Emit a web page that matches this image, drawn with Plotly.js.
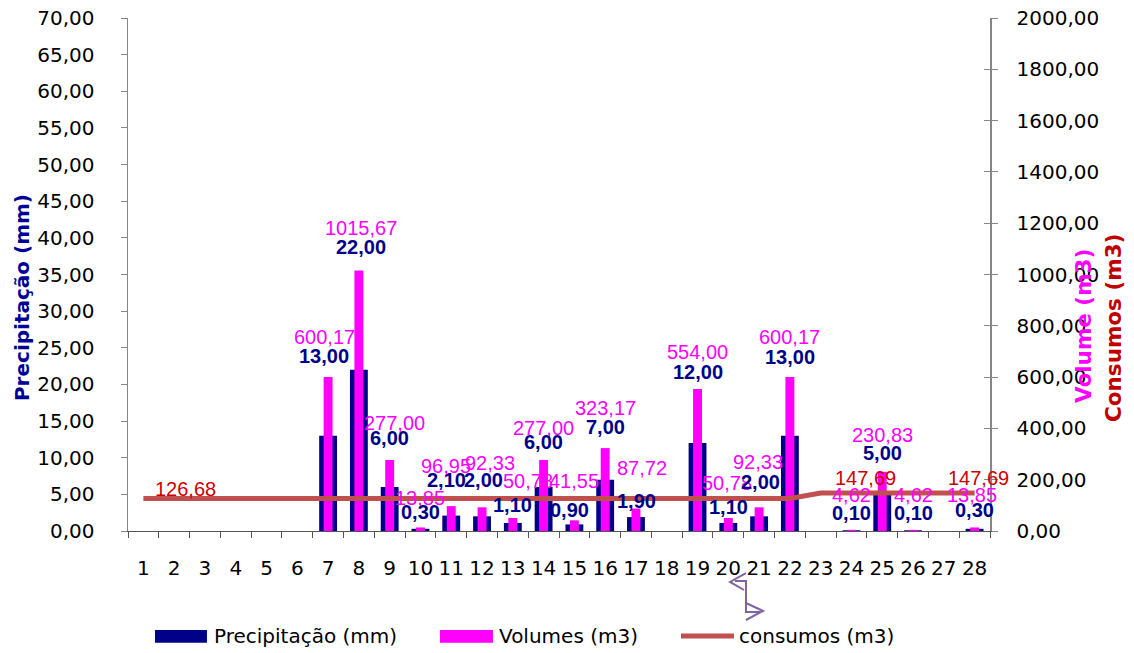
<!DOCTYPE html>
<html>
<head>
<meta charset="utf-8">
<script src="https://cdn.plot.ly/plotly-3.0.1.min.js"></script>
<style>
  html, body { margin: 0; padding: 0; background: #ffffff; }
  #chart { width: 1134px; height: 653px; }
</style>
</head>
<body>
<div id="chart"></div>
<script>
// ---- data ----
const days = ['1','2','3','4','5','6','7','8','9','10','11','12','13','14','15','16','17','18','19','20','21','22','23','24','25','26','27','28'];
const precipitacao = [null,null,null,null,null,null,13.00,22.00,6.00,0.30,2.10,2.00,1.10,6.00,0.90,7.00,1.90,null,12.00,1.10,2.00,13.00,null,0.10,5.00,0.10,null,0.30];
const volumes = [null,null,null,null,null,null,600.17,1015.67,277.00,13.85,96.95,92.33,50.78,277.00,41.55,323.17,87.72,null,554.00,50.78,92.33,600.17,null,4.62,230.83,4.62,null,13.85];
const consumos = [126.68,126.68,126.68,126.68,126.68,126.68,126.68,126.68,126.68,126.68,126.68,126.68,126.68,126.68,126.68,126.68,126.68,126.68,126.68,126.68,126.68,126.68,147.69,147.69,147.69,147.69,147.69,147.69];
const consumoLabelDays = ['2','24','28'];
const yLeftTicks = [0,5,10,15,20,25,30,35,40,45,50,55,60,65,70];
const yRightTicks = [0,200,400,600,800,1000,1200,1400,1600,1800,2000];

// ---- label placement (pixel offsets, style only) ----
// volume label: [xshift, yshift above bar top]; precip label: gap below volume label
const volLabelShift = {7:[-4,40],8:[2,42],9:[5,37],10:[0,29],11:[-5,40],12:[8,44],13:[15,37],14:[0,32],15:[0,39],16:[0,40],17:[6,41],19:[0,37],20:[-1,35],21:[-1,45],22:[0,40],24:[0,35],25:[0,37],26:[0,35],28:[-3,32]};
const precipGap = {7:19,8:19,9:15,10:14,11:14,12:17,13:24,14:14,15:29,16:19,17:33,19:20,20:24,21:20,22:20,24:18,25:18,26:18,28:15};
const precipXShift = {7:-4,8:2,9:0,10:0,11:-5,12:1,13:0,14:0,15:-5,16:0,17:1,19:0,20:0,21:1,22:0,24:0,25:0,26:0,28:0};

// ---- styles ----
const NAVY = '#000088';
const MAGENTA = '#FF00FF';
const LINE_RED = '#C0504D';
const LABEL_RED = '#CC0000';
const AXIS_GRAY = '#868686';
const fmt = v => v.toFixed(2).replace('.', ',');
const tickFont = {family: 'DejaVu Sans', size: 20, color: '#000000'};

const traces = [
  {
    type: 'bar', name: 'Precipitação (mm)', x: days, y: precipitacao,
    yaxis: 'y', width: 0.58, marker: {color: NAVY}, showlegend: false, hoverinfo: 'skip'
  },
  {
    type: 'bar', name: 'Volumes (m3)', x: days, y: volumes,
    yaxis: 'y2', width: 0.29, marker: {color: MAGENTA}, showlegend: false, hoverinfo: 'skip'
  },
  {
    type: 'scatter', mode: 'lines', name: 'consumos (m3)', x: days, y: consumos,
    yaxis: 'y2', line: {color: LINE_RED, width: 5}, showlegend: false, hoverinfo: 'skip'
  }
];

const annotations = [];
// volume labels (x given as category index)
days.forEach((d, i) => {
  if (volumes[i] == null) return;
  const s = volLabelShift[d] || [0, 38];
  annotations.push({
    x: i, y: volumes[i], xref: 'x', yref: 'y2', text: fmt(volumes[i]),
    showarrow: false, yanchor: 'middle', xanchor: 'center', xshift: s[0], yshift: s[1],
    font: {family: 'Liberation Sans', size: 20, color: MAGENTA}
  });
});
// precipitation labels (placed just under the volume labels)
days.forEach((d, i) => {
  if (precipitacao[i] == null) return;
  const s = volLabelShift[d] || [0, 38];
  const g = precipGap[d] || 19;
  annotations.push({
    x: i, y: volumes[i], xref: 'x', yref: 'y2', text: '<b>' + fmt(precipitacao[i]) + '</b>',
    showarrow: false, yanchor: 'middle', xanchor: 'center',
    xshift: precipXShift[d] || 0, yshift: s[1] - g,
    font: {family: 'Liberation Sans', size: 20, color: NAVY}
  });
});
// consumos labels
const consShift = {'2': [11, 10], '24': [14, 15], '28': [4, 15]};
consumoLabelDays.forEach(d => {
  const i = days.indexOf(d);
  annotations.push({
    x: i, y: consumos[i], xref: 'x', yref: 'y2', text: fmt(consumos[i]),
    showarrow: false, yanchor: 'middle', xanchor: 'center',
    xshift: consShift[d][0], yshift: consShift[d][1],
    font: {family: 'Liberation Sans', size: 20, color: LABEL_RED}
  });
});
// axis titles
annotations.push({
  xref: 'paper', yref: 'paper', x: -0.123, y: 0.456, text: '<b>Precipitação (mm)</b>',
  textangle: -90, showarrow: false, xanchor: 'center', yanchor: 'middle',
  font: {family: 'DejaVu Sans', size: 20, color: '#000099'}
});
annotations.push({
  xref: 'paper', yref: 'paper', x: 1.1079, y: 0.3996, text: '<b>Volume (m3)</b>',
  textangle: -90, showarrow: false, xanchor: 'center', yanchor: 'middle',
  font: {family: 'DejaVu Sans', size: 21.5, color: MAGENTA}
});
annotations.push({
  xref: 'paper', yref: 'paper', x: 1.1427, y: 0.3957, text: '<b>Consumos (m3)</b>',
  textangle: -90, showarrow: false, xanchor: 'center', yanchor: 'middle',
  font: {family: 'DejaVu Sans', size: 21.5, color: '#C00000'}
});
// legend texts
const legFont = {family: 'DejaVu Sans', size: 20, color: '#000000'};
[['Precipitação (mm)', 0.0974], ['Volumes (m3)', 0.4281], ['consumos (m3)', 0.7065]].forEach(([t, x]) => {
  annotations.push({xref: 'paper', yref: 'paper', x: x, y: -0.2047, text: t, showarrow: false,
    xanchor: 'left', yanchor: 'middle', font: legFont});
});

const shapes = [
  // legend swatches
  {type: 'rect', xref: 'paper', yref: 'paper', x0: 0.0313, x1: 0.0916, y0: -0.193, y1: -0.218,
   fillcolor: NAVY, line: {width: 0}},
  {type: 'rect', xref: 'paper', yref: 'paper', x0: 0.3619, x1: 0.4234, y0: -0.193, y1: -0.218,
   fillcolor: MAGENTA, line: {width: 0}},
  {type: 'line', xref: 'paper', yref: 'paper', x0: 0.6415, x1: 0.7030, y0: -0.2047, y1: -0.2047,
   line: {color: LINE_RED, width: 5}},
  // stray purple arrow drawing
  {type: 'path', xref: 'paper', yref: 'paper', layer: 'above',
   path: 'M 0.7169 -0.0819 L 0.6984 -0.0994 L 0.7146 -0.1150 M 0.7042 -0.0975 L 0.7169 -0.0975 L 0.7169 -0.1404 M 0.7169 -0.1404 L 0.7367 -0.1559 L 0.7169 -0.1735 M 0.7169 -0.1404 L 0.7169 -0.1579 L 0.7332 -0.1579',
   line: {color: '#8064A2', width: 2}}
];

const layout = {
  width: 1134, height: 653,
  margin: {l: 128, r: 144, t: 18, b: 122, pad: 0},
  paper_bgcolor: '#ffffff', plot_bgcolor: '#ffffff',
  separators: ',.',
  barmode: 'overlay',
  showlegend: false,
  xaxis: {
    type: 'category', categoryarray: days, range: [-0.5, 27.5],
    tickson: 'boundaries', ticks: 'outside', ticklen: 6, tickcolor: '#555555', tickwidth: 1,
    showline: true, linecolor: '#555555', linewidth: 1, showgrid: false, zeroline: false,
    tickfont: tickFont, tickangle: 0, ticklabelstandoff: 19, fixedrange: true
  },
  yaxis: {
    range: [0, 70], tickvals: yLeftTicks, tickformat: '.2f',
    ticks: 'outside', ticklen: 6, tickcolor: AXIS_GRAY,
    showline: true, linecolor: AXIS_GRAY, linewidth: 1.5, showgrid: false, zeroline: false,
    tickfont: tickFont, ticklabelstandoff: 22, fixedrange: true
  },
  yaxis2: {
    overlaying: 'y', side: 'right', range: [0, 2000], tickvals: yRightTicks, tickformat: '.2f',
    ticks: 'outside', ticklen: 6, tickcolor: AXIS_GRAY,
    showline: true, linecolor: AXIS_GRAY, linewidth: 1.5, showgrid: false, zeroline: false,
    tickfont: tickFont, ticklabelstandoff: 15, fixedrange: true
  },
  yaxis3: {
    overlaying: 'y', side: 'right', range: [0, 2000], tickvals: yRightTicks,
    ticks: 'inside', ticklen: 6, tickcolor: AXIS_GRAY, showticklabels: false,
    showline: false, showgrid: false, zeroline: false, fixedrange: true
  },
  annotations: annotations,
  shapes: shapes
};

// helper trace (no visible marks) so the inside tick marks of yaxis3 are drawn
traces.push({type: 'scatter', x: [days[0]], y: [null], yaxis: 'y3', showlegend: false, hoverinfo: 'skip'});

Plotly.newPlot('chart', traces, layout, {displayModeBar: false, staticPlot: true});
</script>
</body>
</html>
